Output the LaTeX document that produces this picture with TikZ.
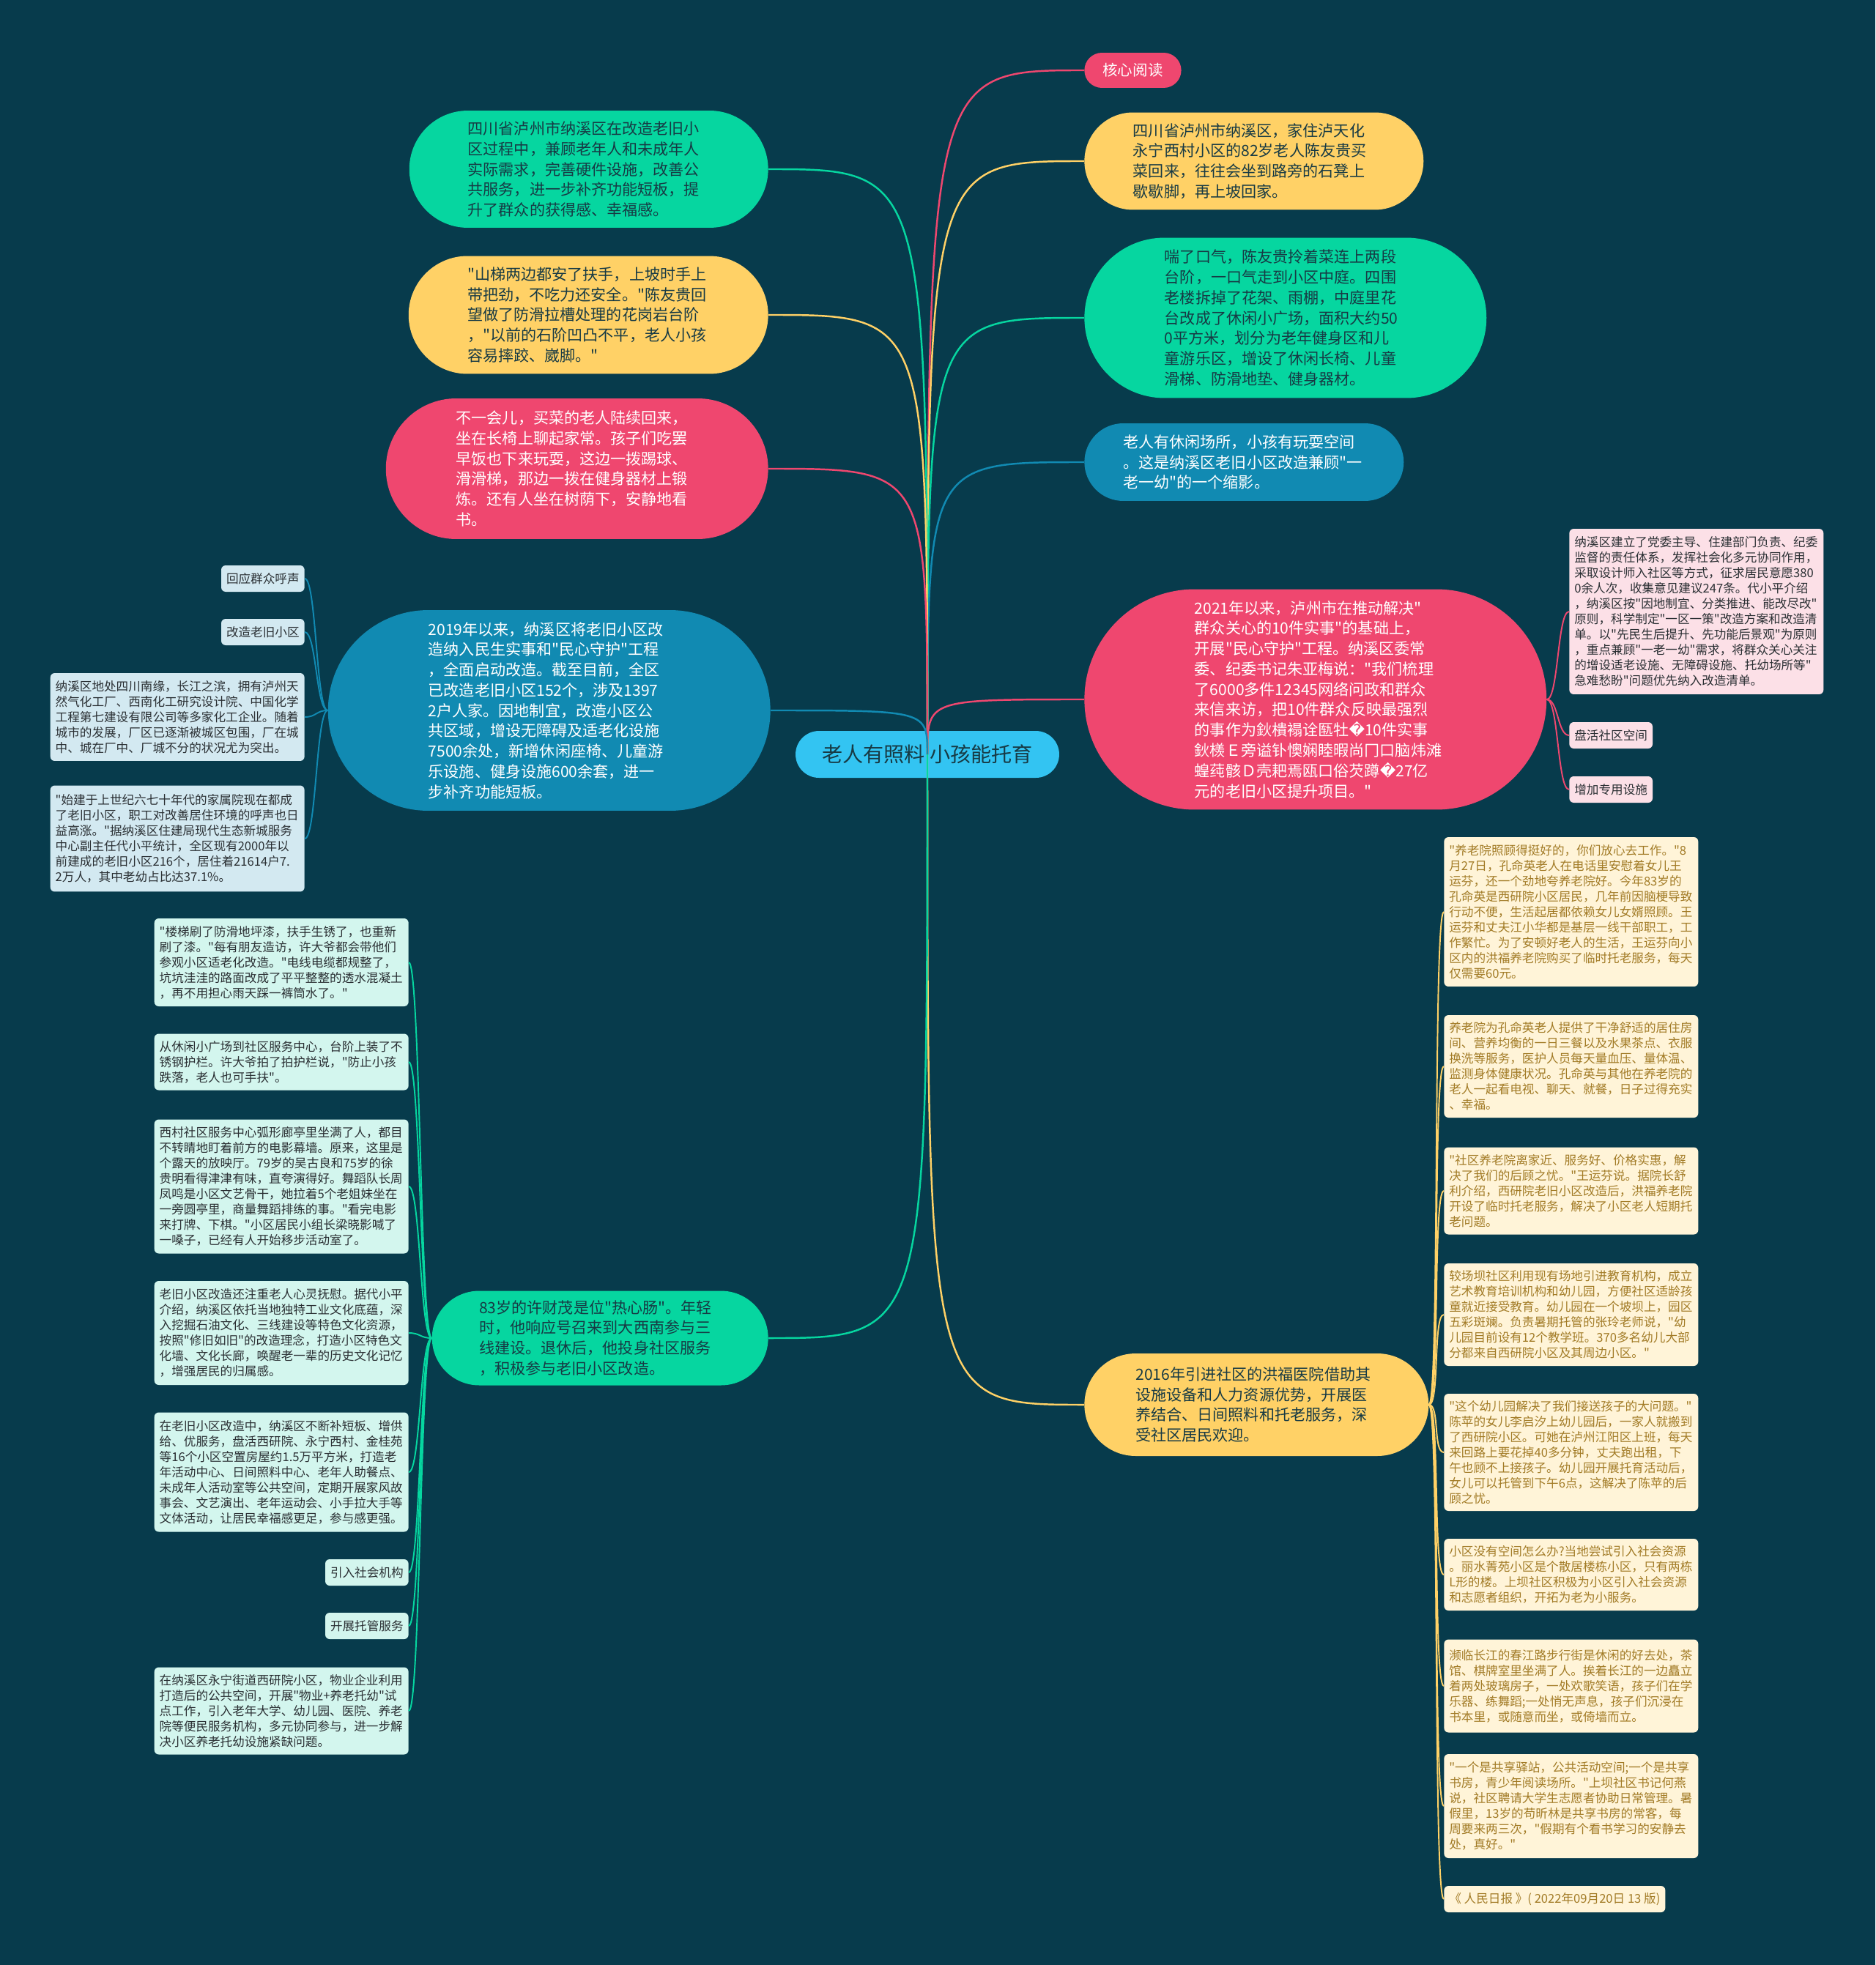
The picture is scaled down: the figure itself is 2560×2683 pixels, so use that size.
\documentclass[tikz,border=0pt]{standalone}
\usepackage{fontspec}
\setmainfont{Noto Sans CJK SC}[Ligatures=TeXOff]
\newfontfamily\djv{DejaVu Sans}

\definecolor{bgcol}{HTML}{073B4C}
\definecolor{mpink}{HTML}{EF476F}
\definecolor{myellow}{HTML}{FFD166}
\definecolor{mgreen}{HTML}{06D6A0}
\definecolor{mblue}{HTML}{118AB2}
\definecolor{mcore}{HTML}{33C4F2}
\definecolor{mdark}{HTML}{173A44}
\definecolor{subblue}{HTML}{D3E9F1}
\definecolor{subgreen}{HTML}{D3F6EE}
\definecolor{subpink}{HTML}{FCE0E7}
\definecolor{subyellow}{HTML}{FFF4D8}
\definecolor{subtext}{HTML}{2A2F33}
\definecolor{goldtext}{HTML}{A27B26}

\begin{document}
\begin{tikzpicture}[x=0.02cm, y=-0.02cm,
    big/.style={inner ysep=0pt, inner xsep=#1, minimum height=2*#1, rounded corners=#1,
        text width=6.6cm, align=left, font=\fontsize{12}{15.8}\selectfont},
    gbig/.style={big=#1, fill=mgreen, text=mdark},
    ybig/.style={big=#1, fill=myellow, text=mdark},
    pbig/.style={big=#1, fill=mpink, text=white},
    bbig/.style={big=#1, fill=mblue, text=white},
    sub/.style={inner xsep=0.14cm, inner ysep=0pt, rounded corners=0.12cm,
        text width=6.66cm, align=left, font=\fontsize{9.45}{11.95}\selectfont},
    tag/.style={inner xsep=0.14cm, inner ysep=0pt, minimum height=0.72cm, rounded corners=0.12cm,
        font=\fontsize{9.45}{11.95}\selectfont},
    link/.style={line width=1.4pt, draw=#1},
    twig/.style={line width=1.1pt, draw=#1}
]
    % Background
    \fill [bgcol] (0, 0) rectangle (2560, 2683);

    % Central topic
    \node (cen) [fill=mcore, text=mdark, minimum width=7.2cm, minimum height=1.28cm, rounded corners=0.64cm,
        inner sep=0pt, font=\fontsize{16}{18}\selectfont] at (1266, 1030) {老人有照料 小孩能托育};

    % Right branches
    \node (kx) [fill=mpink, text=white, inner xsep=0.5cm, inner ysep=0pt, minimum height=0.96cm,
        rounded corners=0.48cm, font=\fontsize{11.7}{14}\selectfont, anchor=west] at (1480, 96) {核心阅读};
    \node (r1) [ybig=1.33cm, anchor=west] at (1480, 220) {四川省泸州市纳溪区，家住泸天化\\永宁西村小区的82岁老人陈友贵买\\菜回来，往往会坐到路旁的石凳上\\歇歇脚，再上坡回家。};
    \node (r2) [gbig=2.19cm, anchor=west] at (1480, 434) {喘了口气，陈友贵拎着菜连上两段\\台阶，一口气走到小区中庭。四围\\老楼拆掉了花架、雨棚，中庭里花\\台改成了休闲小广场，面积大约50\\0平方米，划分为老年健身区和儿\\童游乐区，增设了休闲长椅、儿童\\滑梯、防滑地垫、健身器材。};
    \node (r3) [bbig=1.06cm, anchor=west] at (1480, 631) {老人有休闲场所，小孩有玩耍空间\\。这是纳溪区老旧小区改造兼顾"一\\老一幼"的一个缩影。};
    \node (r4) [pbig=3.01cm, anchor=west] at (1480, 955) {2021年以来，泸州市在推动解决"\\群众关心的10件实事"的基础上，\\开展"民心守护"工程。纳溪区委常\\委、纪委书记朱亚梅说："我们梳理\\了6000多件12345网络问政和群众\\来信来访，把10件群众反映最强烈\\的事作为鈥樻褟诠匦牡{\djv �}10件实事\\鈥檨Ｅ旁谥钋懊娴睦暇尚冂口脑炜滩\\蝗莼骸Ｄ壳耙焉瓯口俗芡蹲{\djv �}27亿\\元的老旧小区提升项目。"};
    \node (r5) [ybig=1.4cm, anchor=west] at (1480, 1918) {2016年引进社区的洪福医院借助其\\设施设备和人力资源优势，开展医\\养结合、日间照料和托老服务，深\\受社区居民欢迎。};

    % Left branches
    \node (l1) [gbig=1.6cm, anchor=east] at (1049, 231) {四川省泸州市纳溪区在改造老旧小\\区过程中，兼顾老年人和未成年人\\实际需求，完善硬件设施，改善公\\共服务，进一步补齐功能短板，提\\升了群众的获得感、幸福感。};
    \node (l2) [ybig=1.61cm, anchor=east] at (1049, 430) {"山梯两边都安了扶手，上坡时手上\\带把劲，不吃力还安全。"陈友贵回\\望做了防滑拉槽处理的花岗岩台阶\\，"以前的石阶凹凸不平，老人小孩\\容易摔跤、崴脚。"};
    \node (l3) [pbig=1.92cm, anchor=east] at (1049, 640) {不一会儿，买菜的老人陆续回来，\\坐在长椅上聊起家常。孩子们吃罢\\早饭也下来玩耍，这边一拨踢球、\\滑滑梯，那边一拨在健身器材上锻\\炼。还有人坐在树荫下，安静地看\\书。};
    \node (l4) [bbig=2.74cm, anchor=east] at (1052, 970) {2019年以来，纳溪区将老旧小区改\\造纳入民生实事和"民心守护"工程\\，全面启动改造。截至目前，全区\\已改造老旧小区152个，涉及1397\\2户人家。因地制宜，改造小区公\\共区域，增设无障碍及适老化设施\\7500余处，新增休闲座椅、儿童游\\乐设施、健身设施600余套，进一\\步补齐功能短板。};
    \node (l5) [gbig=1.29cm, anchor=east] at (1049, 1827) {83岁的许财茂是位"热心肠"。年轻\\时，他响应号召来到大西南参与三\\线建设。退休后，他投身社区服务\\，积极参与老旧小区改造。};

    % Details of the 2019 branch
    \node (l4a) [tag, fill=subblue, text=subtext, anchor=east] at (416, 790) {回应群众呼声};
    \node (l4b) [tag, fill=subblue, text=subtext, anchor=east] at (416, 863) {改造老旧小区};
    \node (l4c) [sub, fill=subblue, text=subtext, minimum height=2.4cm, anchor=east] at (416, 979) {纳溪区地处四川南缘，长江之滨，拥有泸州天\\然气化工厂、西南化工研究设计院、中国化学\\工程第七建设有限公司等多家化工企业。随着\\城市的发展，厂区已逐渐被城区包围，厂在城\\中、城在厂中、厂城不分的状况尤为突出。};
    \node (l4d) [sub, fill=subblue, text=subtext, minimum height=2.9cm, anchor=east] at (416, 1145) {"始建于上世纪六七十年代的家属院现在都成\\了老旧小区，职工对改善居住环境的呼声也日\\益高涨。"据纳溪区住建局现代生态新城服务\\中心副主任代小平统计，全区现有2000年以\\前建成的老旧小区216个，居住着21614户7.\\2万人，其中老幼占比达37.1\%。};

    % Details of the 83-year-old branch
    \node (l5a) [sub, fill=subgreen, text=subtext, minimum height=2.4cm, anchor=east] at (558, 1314) {"楼梯刷了防滑地坪漆，扶手生锈了，也重新\\刷了漆。"每有朋友造访，许大爷都会带他们\\参观小区适老化改造。"电线电缆都规整了，\\坑坑洼洼的路面改成了平平整整的透水混凝土\\，再不用担心雨天踩一裤筒水了。"};
    \node (l5b) [sub, fill=subgreen, text=subtext, minimum height=1.54cm, anchor=east] at (558, 1450) {从休闲小广场到社区服务中心，台阶上装了不\\锈钢护栏。许大爷拍了拍护栏说，"防止小孩\\跌落，老人也可手扶"。};
    \node (l5c) [sub, fill=subgreen, text=subtext, minimum height=3.66cm, anchor=east] at (558, 1620) {西村社区服务中心弧形廊亭里坐满了人，都目\\不转睛地盯着前方的电影幕墙。原来，这里是\\个露天的放映厅。79岁的吴古良和75岁的徐\\贵明看得津津有味，直夸演得好。舞蹈队长周\\凤鸣是小区文艺骨干，她拉着5个老姐妹坐在\\一旁圆亭里，商量舞蹈排练的事。"看完电影\\来打牌、下棋。"小区居民小组长梁晓影喊了\\一嗓子，已经有人开始移步活动室了。};
    \node (l5d) [sub, fill=subgreen, text=subtext, minimum height=2.84cm, anchor=east] at (558, 1820) {老旧小区改造还注重老人心灵抚慰。据代小平\\介绍，纳溪区依托当地独特工业文化底蕴，深\\入挖掘石油文化、三线建设等特色文化资源，\\按照"修旧如旧"的改造理念，打造小区特色文\\化墙、文化长廊，唤醒老一辈的历史文化记忆\\，增强居民的归属感。};
    \node (l5e) [sub, fill=subgreen, text=subtext, minimum height=3.26cm, anchor=east] at (558, 2010) {在老旧小区改造中，纳溪区不断补短板、增供\\给、优服务，盘活西研院、永宁西村、金桂苑\\等16个小区空置房屋约1.5万平方米，打造老\\年活动中心、日间照料中心、老年人助餐点、\\未成年人活动室等公共空间，定期开展家风故\\事会、文艺演出、老年运动会、小手拉大手等\\文体活动，让居民幸福感更足，参与感更强。};
    \node (l5f) [tag, fill=subgreen, text=subtext, anchor=east] at (558, 2147) {引入社会机构};
    \node (l5g) [tag, fill=subgreen, text=subtext, anchor=east] at (558, 2220) {开展托管服务};
    \node (l5h) [sub, fill=subgreen, text=subtext, minimum height=2.38cm, anchor=east] at (558, 2336) {在纳溪区永宁街道西研院小区，物业企业利用\\打造后的公共空间，开展"物业+养老托幼"试\\点工作，引入老年大学、幼儿园、医院、养老\\院等便民服务机构，多元协同参与，进一步解\\决小区养老托幼设施紧缺问题。};

    % Details of the 2021 branch
    \node (r4a) [sub, fill=subpink, text=subtext, minimum height=4.52cm, anchor=west] at (2142, 835) {纳溪区建立了党委主导、住建部门负责、纪委\\监督的责任体系，发挥社会化多元协同作用，\\采取设计师入社区等方式，征求居民意愿380\\0余人次，收集意见建议247条。代小平介绍\\，纳溪区按"因地制宜、分类推进、能改尽改"\\原则，科学制定"一区一策"改造方案和改造清\\单。以"先民生后提升、先功能后景观"为原则\\，重点兼顾"一老一幼"需求，将群众关心关注\\的增设适老设施、无障碍设施、托幼场所等"\\急难愁盼"问题优先纳入改造清单。};
    \node (r4b) [tag, fill=subpink, text=subtext, anchor=west] at (2142, 1004) {盘活社区空间};
    \node (r4c) [tag, fill=subpink, text=subtext, anchor=west] at (2142, 1078) {增加专用设施};

    % Details of the 2016 branch
    \node (r5a) [sub, fill=subyellow, text=goldtext, minimum height=4.08cm, anchor=west] at (1971, 1245) {"养老院照顾得挺好的，你们放心去工作。"8\\月27日，孔命英老人在电话里安慰着女儿王\\运芬，还一个劲地夸养老院好。今年83岁的\\孔命英是西研院小区居民，几年前因脑梗导致\\行动不便，生活起居都依赖女儿女婿照顾。王\\运芬和丈夫江小华都是基层一线干部职工，工\\作繁忙。为了安顿好老人的生活，王运芬向小\\区内的洪福养老院购买了临时托老服务，每天\\仅需要60元。};
    \node (r5b) [sub, fill=subyellow, text=goldtext, minimum height=2.8cm, anchor=west] at (1971, 1456) {养老院为孔命英老人提供了干净舒适的居住房\\间、营养均衡的一日三餐以及水果茶点、衣服\\换洗等服务，医护人员每天量血压、量体温、\\监测身体健康状况。孔命英与其他在养老院的\\老人一起看电视、聊天、就餐，日子过得充实\\、幸福。};
    \node (r5c) [sub, fill=subyellow, text=goldtext, minimum height=2.38cm, anchor=west] at (1971, 1626) {"社区养老院离家近、服务好、价格实惠，解\\决了我们的后顾之忧。"王运芬说。据院长舒\\利介绍，西研院老旧小区改造后，洪福养老院\\开设了临时托老服务，解决了小区老人短期托\\老问题。};
    \node (r5d) [sub, fill=subyellow, text=goldtext, minimum height=2.8cm, anchor=west] at (1971, 1795) {较场坝社区利用现有场地引进教育机构，成立\\艺术教育培训机构和幼儿园，方便社区适龄孩\\童就近接受教育。幼儿园在一个坡坝上，园区\\五彩斑斓。负责暑期托管的张玲老师说，"幼\\儿园目前设有12个教学班。370多名幼儿大部\\分都来自西研院小区及其周边小区。"};
    \node (r5e) [sub, fill=subyellow, text=goldtext, minimum height=3.2cm, anchor=west] at (1971, 1983) {"这个幼儿园解决了我们接送孩子的大问题。"\\陈苹的女儿李启汐上幼儿园后，一家人就搬到\\了西研院小区。可她在泸州江阳区上班，每天\\来回路上要花掉40多分钟，丈夫跑出租，下\\午也顾不上接孩子。幼儿园开展托育活动后，\\女儿可以托管到下午6点，这解决了陈苹的后\\顾之忧。};
    \node (r5f) [sub, fill=subyellow, text=goldtext, minimum height=1.96cm, anchor=west] at (1971, 2150) {小区没有空间怎么办?当地尝试引入社会资源\\。丽水菁苑小区是个散居楼栋小区，只有两栋\\L形的楼。上坝社区积极为小区引入社会资源\\和志愿者组织，开拓为老为小服务。};
    \node (r5g) [sub, fill=subyellow, text=goldtext, minimum height=2.54cm, anchor=west] at (1971, 2302) {濒临长江的春江路步行街是休闲的好去处，茶\\馆、棋牌室里坐满了人。挨着长江的一边矗立\\着两处玻璃房子，一处欢歌笑语，孩子们在学\\乐器、练舞蹈;一处悄无声息，孩子们沉浸在\\书本里，或随意而坐，或倚墙而立。};
    \node (r5h) [sub, fill=subyellow, text=goldtext, minimum height=2.84cm, anchor=west] at (1971, 2466) {"一个是共享驿站，公共活动空间;一个是共享\\书房，青少年阅读场所。"上坝社区书记何燕\\说，社区聘请大学生志愿者协助日常管理。暑\\假里，13岁的苟昕林是共享书房的常客，每\\周要来两三次，"假期有个看书学习的安静去\\处，真好。"};
    \node (r5i) [tag, fill=subyellow, text=goldtext, anchor=west] at (1971, 2593) {《 人民日报 》( 2022年09月20日 13 版)};

    % Links from the central topic
    \draw [link=mpink] (cen.center) .. controls (cen.center |- kx.west) and (cen.center |- kx.west) .. (kx.west);
    \draw [link=myellow] (cen.center) .. controls (cen.center |- r1.west) and (cen.center |- r1.west) .. (r1.west);
    \draw [link=mgreen] (cen.center) .. controls (cen.center |- r2.west) and (cen.center |- r2.west) .. (r2.west);
    \draw [link=mblue] (cen.center) .. controls (cen.center |- r3.west) and (cen.center |- r3.west) .. (r3.west);
    \draw [link=mpink] (cen.center) .. controls (cen.center |- r4.west) and (cen.center |- r4.west) .. (r4.west);
    \draw [link=myellow] (cen.center) .. controls (cen.center |- r5.west) and (cen.center |- r5.west) .. (r5.west);
    \draw [link=mgreen] (cen.center) .. controls (cen.center |- l1.east) and (cen.center |- l1.east) .. (l1.east);
    \draw [link=myellow] (cen.center) .. controls (cen.center |- l2.east) and (cen.center |- l2.east) .. (l2.east);
    \draw [link=mpink] (cen.center) .. controls (cen.center |- l3.east) and (cen.center |- l3.east) .. (l3.east);
    \draw [link=mblue] (cen.center) .. controls (cen.center |- l4.east) and (cen.center |- l4.east) .. (l4.east);
    \draw [link=mgreen] (cen.center) .. controls (cen.center |- l5.east) and (cen.center |- l5.east) .. (l5.east);

    % Links to the details
    \draw [twig=mblue] (l4.west) .. controls +(-16, 0) and +(16, 0) .. (l4a.east);
    \draw [twig=mblue] (l4.west) .. controls +(-16, 0) and +(16, 0) .. (l4b.east);
    \draw [twig=mblue] (l4.west) .. controls +(-16, 0) and +(16, 0) .. (l4c.east);
    \draw [twig=mblue] (l4.west) .. controls +(-16, 0) and +(16, 0) .. (l4d.east);

    \draw [twig=mgreen] (l5.west) .. controls +(-16, 0) and +(16, 0) .. (l5a.east);
    \draw [twig=mgreen] (l5.west) .. controls +(-16, 0) and +(16, 0) .. (l5b.east);
    \draw [twig=mgreen] (l5.west) .. controls +(-16, 0) and +(16, 0) .. (l5c.east);
    \draw [twig=mgreen] (l5.west) .. controls +(-16, 0) and +(16, 0) .. (l5d.east);
    \draw [twig=mgreen] (l5.west) .. controls +(-16, 0) and +(16, 0) .. (l5e.east);
    \draw [twig=mgreen] (l5.west) .. controls +(-16, 0) and +(16, 0) .. (l5f.east);
    \draw [twig=mgreen] (l5.west) .. controls +(-16, 0) and +(16, 0) .. (l5g.east);
    \draw [twig=mgreen] (l5.west) .. controls +(-16, 0) and +(16, 0) .. (l5h.east);

    \draw [twig=mpink] (r4.east) .. controls +(16, 0) and +(-16, 0) .. (r4a.west);
    \draw [twig=mpink] (r4.east) .. controls +(16, 0) and +(-16, 0) .. (r4b.west);
    \draw [twig=mpink] (r4.east) .. controls +(16, 0) and +(-16, 0) .. (r4c.west);

    \draw [twig=myellow] (r5.east) .. controls +(15, 0) and +(-15, 0) .. (r5a.west);
    \draw [twig=myellow] (r5.east) .. controls +(15, 0) and +(-15, 0) .. (r5b.west);
    \draw [twig=myellow] (r5.east) .. controls +(15, 0) and +(-15, 0) .. (r5c.west);
    \draw [twig=myellow] (r5.east) .. controls +(15, 0) and +(-15, 0) .. (r5d.west);
    \draw [twig=myellow] (r5.east) .. controls +(15, 0) and +(-15, 0) .. (r5e.west);
    \draw [twig=myellow] (r5.east) .. controls +(15, 0) and +(-15, 0) .. (r5f.west);
    \draw [twig=myellow] (r5.east) .. controls +(15, 0) and +(-15, 0) .. (r5g.west);
    \draw [twig=myellow] (r5.east) .. controls +(15, 0) and +(-15, 0) .. (r5h.west);
    \draw [twig=myellow] (r5.east) .. controls +(15, 0) and +(-15, 0) .. (r5i.west);
\end{tikzpicture}
\end{document}
